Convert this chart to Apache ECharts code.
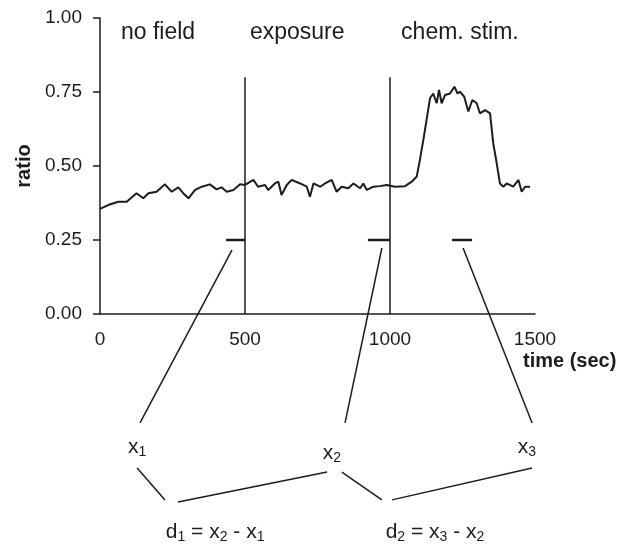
<!DOCTYPE html>
<html>
<head>
<meta charset="utf-8">
<script src="https://cdn.jsdelivr.net/npm/echarts@6.0.0/dist/echarts.min.js"></script>
<style>
  html, body { margin: 0; padding: 0; background: #fff; }
  #chart { width: 626px; height: 548px; }
</style>
</head>
<body>
<div id="chart"></div>
<script>
// recorded trace (time in sec, fluorescence ratio)
var times = [0, 6, 28, 63, 92, 126, 149, 167, 195, 224, 247, 270, 287, 305, 328, 351, 379, 402, 419, 437, 460, 483,
  500, 506, 529, 545, 569, 580, 603, 615, 626, 644, 661, 690, 713, 724, 736, 759, 776, 799, 816, 833, 856, 874, 897,
  908, 920, 943, 965, 989, 1017, 1052, 1075, 1092, 1103, 1115, 1126, 1138, 1149, 1161, 1169, 1178, 1190, 1207, 1222,
  1233, 1241, 1256, 1270, 1284, 1299, 1310, 1328, 1345, 1356, 1368, 1379, 1391, 1402, 1425, 1443, 1454, 1466, 1483];
var ratio = [0.355, 0.354, 0.368, 0.379, 0.379, 0.408, 0.391, 0.408, 0.413, 0.438, 0.413, 0.428, 0.408, 0.391, 0.419,
  0.430, 0.438, 0.421, 0.428, 0.413, 0.419, 0.438,
  0.436, 0.430, 0.453, 0.430, 0.436, 0.419, 0.441, 0.447, 0.402, 0.436, 0.453, 0.441, 0.430, 0.396, 0.441, 0.430,
  0.441, 0.453, 0.413, 0.430, 0.425, 0.441, 0.425, 0.441, 0.419, 0.430, 0.432, 0.436, 0.430, 0.432, 0.447, 0.464,
  0.520, 0.588, 0.655, 0.729, 0.745, 0.712, 0.757, 0.712, 0.740, 0.745, 0.768, 0.745, 0.751, 0.734, 0.684, 0.723,
  0.712, 0.678, 0.689, 0.678, 0.577, 0.509, 0.441, 0.430, 0.441, 0.430, 0.453, 0.413, 0.430, 0.430];

// phase boundaries and phase names
var boundaries = [500, 1000];
var boundaryTop = 0.8;
var phaseNames = ['no field', 'exposure', 'chem. stim.'];
var phaseCenters = [200, 680, 1241];
var phaseLabelY = 0.949;

// averaging windows, drawn at ratio 0.25
var windows = [[435, 500], [924, 1000], [1214, 1283]];
var windowY = 0.25;

// schematic below the axis (in data units)
var links = [
  [[455, 0.216], [138, -0.368]],
  [[972, 0.223], [845, -0.368]],
  [[1252, 0.223], [1490, -0.368]],
  [[128, -0.520], [224, -0.628]],
  [[269, -0.635], [783, -0.534]],
  [[834, -0.534], [972, -0.628]],
  [[1007, -0.628], [1490, -0.520]]
];
var notes = [
  {pos: [128, -0.449], text: '{b|x}{s|1}'},
  {pos: [800, -0.470], text: '{b|x}{s|2}'},
  {pos: [1472, -0.449], text: '{b|x}{s|3}'},
  {pos: [397, -0.736], text: '{b|d}{s|1}{b| = x}{s|2}{b| - x}{s|1}'},
  {pos: [1155, -0.736], text: '{b|d}{s|2}{b| = x}{s|3}{b| - x}{s|2}'}
];

var font = '"Liberation Sans", Arial, sans-serif';
var ink = '#1c1c1c';

var chart = echarts.init(document.getElementById('chart'));

var series = [];
series.push({
  type: 'line',
  data: times.map(function (t, i) { return [t, ratio[i]]; }),
  symbol: 'none',
  lineStyle: {color: ink, width: 2},
  silent: true
});
boundaries.forEach(function (b) {
  series.push({
    type: 'line', data: [[b, 0], [b, boundaryTop]], symbol: 'none',
    lineStyle: {color: ink, width: 1.5}, silent: true
  });
});
windows.forEach(function (w) {
  series.push({
    type: 'line', data: [[w[0], windowY], [w[1], windowY]], symbol: 'none',
    lineStyle: {color: ink, width: 2.5}, silent: true
  });
});
links.forEach(function (l) {
  series.push({
    type: 'line', data: l, symbol: 'none', clip: false,
    lineStyle: {color: ink, width: 1.5}, silent: true
  });
});
series.push({
  type: 'scatter',
  symbolSize: 0,
  clip: false,
  silent: true,
  itemStyle: {opacity: 1},
  data: phaseNames.map(function (n, i) { return {value: [phaseCenters[i], phaseLabelY], name: n}; }),
  label: {
    show: true, position: 'inside', formatter: '{b}',
    color: ink, fontSize: 23, fontFamily: font
  }
});
series.push({
  type: 'scatter',
  symbolSize: 0,
  clip: false,
  silent: true,
  itemStyle: {opacity: 1},
  data: notes.map(function (n) { return {value: n.pos, name: n.text}; }),
  label: {
    show: true, position: 'inside', formatter: function (p) { return p.name; },
    color: ink, fontFamily: font,
    rich: {
      b: {fontSize: 21, fontFamily: font, color: ink, lineHeight: 24},
      s: {fontSize: 14, fontFamily: font, color: ink, lineHeight: 24, padding: [10, 0, 0, 0]}
    }
  }
});

chart.setOption({
  animation: false,
  backgroundColor: '#fff',
  grid: {left: 100, right: 91, top: 18, bottom: 234, outerBoundsMode: 'none'},
  xAxis: {
    type: 'value', min: 0, max: 1500, interval: 500,
    axisLine: {show: true, lineStyle: {color: ink, width: 1.5}},
    axisTick: {show: false},
    splitLine: {show: false},
    axisLabel: {
      color: ink, fontSize: 19, fontFamily: font, margin: 16,
      formatter: function (v) { return String(v); }
    }
  },
  yAxis: {
    type: 'value', min: 0, max: 1, interval: 0.25,
    name: 'ratio', nameLocation: 'middle', nameGap: 66, nameRotate: 90,
    nameTextStyle: {color: ink, fontSize: 20, fontWeight: 'bold', fontFamily: font},
    axisLine: {show: true, lineStyle: {color: ink, width: 1.5}},
    axisTick: {show: true, length: 7, lineStyle: {color: ink, width: 1.5}},
    splitLine: {show: false},
    axisLabel: {
      color: ink, fontSize: 19, fontFamily: font, margin: 18,
      formatter: function (v) { return v.toFixed(2); }
    }
  },
  graphic: [{
    type: 'text', left: 523, top: 351,
    style: {text: 'time (sec)', font: 'bold 20px ' + font, fill: ink}
  }],
  series: series
});
</script>
</body>
</html>
